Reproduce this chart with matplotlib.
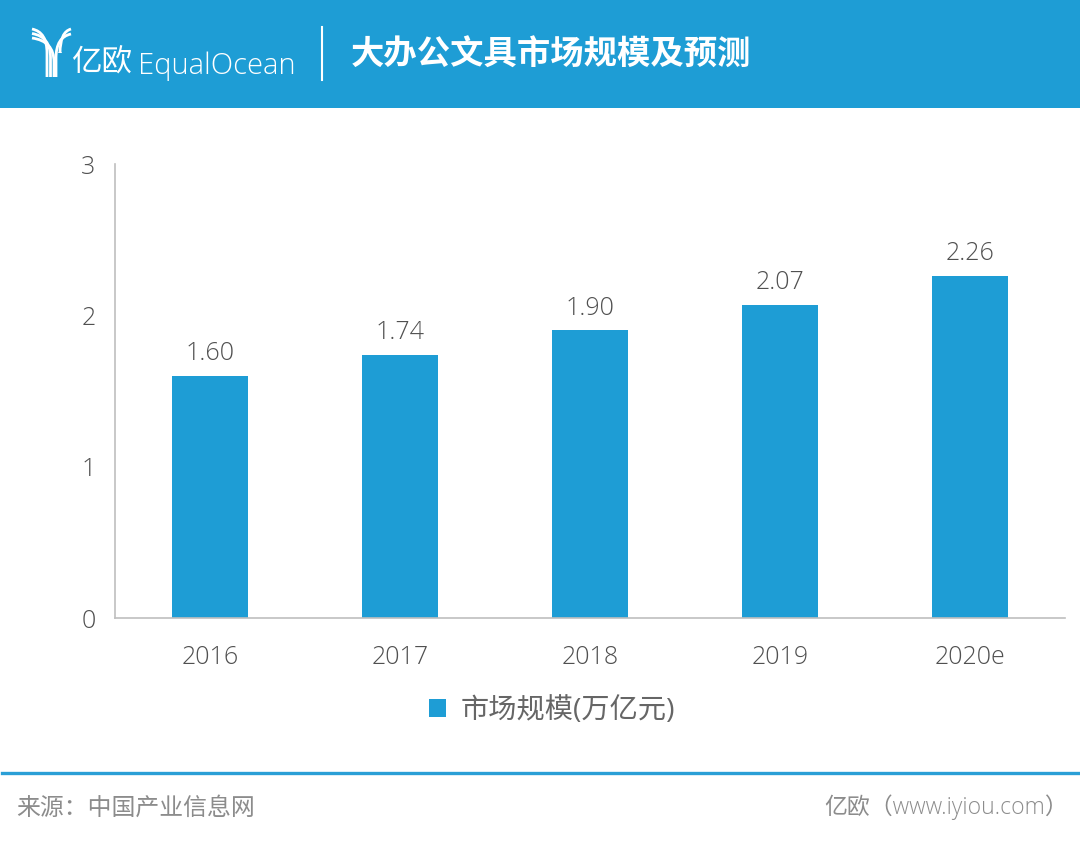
import matplotlib
matplotlib.use('Agg')
from matplotlib import pyplot as plt
from matplotlib.patches import Rectangle, PathPatch
from matplotlib.path import Path

plt.rcParams['font.family'] = ['Open Sans', 'Noto Sans CJK SC', 'DejaVu Sans']

years = ['2016', '2017', '2018', '2019', '2020e']
market_size = [1.60, 1.74, 1.90, 2.07, 2.26]
value_labels = ['1.60', '1.74', '1.90', '2.07', '2.26']
y_ticks = [0, 1, 2, 3]

BLUE = '#1e9dd5'
W, H = 1080, 842


def fx(px):
    return px / W


def fy(py):
    return 1 - py / H


fig = plt.figure(figsize=(W / 100, H / 100), dpi=100, facecolor='white')

# header band, pixel coords turned into figure fractions
fig.add_artist(Rectangle((0, fy(108)), 1, 108 / H, transform=fig.transFigure,
                         facecolor=BLUE, edgecolor='none'))
fig.add_artist(plt.Line2D([fx(321.5), fx(321.5)], [fy(27), fy(80)], color='white',
                          lw=1.5, transform=fig.transFigure))


def logo_curve(x0, y0, x2, bottom):
    path = Path([(fx(x0), fy(y0)), (fx(x2), fy(y0 + 3)), (fx(x2), fy(y0 + 24)), (fx(x2), fy(bottom))],
                [Path.MOVETO, Path.CURVE3, Path.CURVE3, Path.LINETO])
    fig.add_artist(PathPatch(path, facecolor='none', edgecolor='white', lw=2.0,
                             transform=fig.transFigure, capstyle='butt'))


# logo arcs
for x2, sy in zip([47, 50.5, 54], [29, 33.5, 38]):
    logo_curve(32, sy, x2, 77)
for x2, sy in zip([60, 56], [29, 34]):
    logo_curve(71, sy, x2, 77 if x2 == 56 else 52)

fig.text(fx(71), fy(63), '亿欧', color='white', fontsize=22, va='center', ha='left',
         family=['Noto Sans CJK SC', 'DejaVu Sans'], fontweight='light')
fig.text(fx(138), fy(66), 'EqualOcean', color='white', fontsize=21, va='center', ha='left',
         family=['Open Sans', 'DejaVu Sans'], fontweight='light')
fig.text(fx(351), fy(55), '大办公文具市场规模及预测', color='white', fontsize=24, va='center',
         ha='left', family=['Noto Sans CJK SC', 'DejaVu Sans'], fontweight='bold')

# chart
ax = fig.add_axes([fx(115), fy(618), (1065 - 115) / W, (618 - 164) / H])
ax.set_facecolor('none')
bars = ax.bar(range(len(years)), market_size, width=0.4, color=BLUE, label='市场规模(万亿元)')
ax.set_xlim(-0.5, len(years) - 0.5)
ax.set_ylim(0, 3)
ax.set_xticks(range(len(years)))
ax.set_xticklabels(years, fontweight='light')
ax.set_yticks(y_ticks)
ax.set_yticklabels([str(t) for t in y_ticks], fontweight='light')
ax.tick_params(axis='both', length=0, labelsize=18, labelcolor='#505050')
ax.tick_params(axis='x', pad=19.5)
ax.tick_params(axis='y', pad=14)
for side in ['top', 'right']:
    ax.spines[side].set_visible(False)
for side in ['left', 'bottom']:
    ax.spines[side].set_color('#bfbfbf')
    ax.spines[side].set_linewidth(1.2)

for rect, lab in zip(bars, value_labels):
    ax.annotate(lab, (rect.get_x() + rect.get_width() / 2, rect.get_height()),
                xytext=(0, 7), textcoords='offset points', ha='center', va='bottom',
                fontsize=18, color='#505050', fontweight='light')

leg = fig.legend(handles=[bars], labels=['市场规模(万亿元)'], loc='center',
                 bbox_to_anchor=(fx(552), fy(711)), frameon=False, fontsize=20.3,
                 handlelength=0.62, handleheight=0.62, handletextpad=0.5,
                 labelcolor='#666666')

# footer
fig.add_artist(plt.Line2D([fx(2), 1], [fy(772.5), fy(772.5)], color='#2a9fd6', lw=2.4,
                          transform=fig.transFigure))
fig.text(fx(16), fy(808), '来源：中国产业信息网', fontsize=17.2, color='#8c8c8c', va='center', ha='left',
         family=['Noto Sans CJK SC', 'DejaVu Sans'], fontweight='light')
fig.text(fx(824), fy(807), '亿欧（www.iyiou.com）', fontsize=16.5, color='#8c8c8c', va='center',
         ha='left', family=['Open Sans', 'Noto Sans CJK SC', 'DejaVu Sans'], fontweight='light')

fig.savefig('out.png', dpi=100)
